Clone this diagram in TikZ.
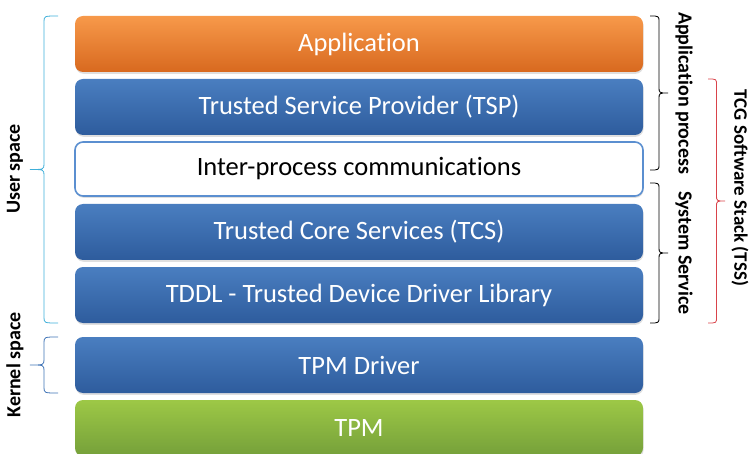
\documentclass[tikz,border=0pt]{standalone}
\usepackage{fontspec}
\setmainfont{Carlito}[Ligatures=NoCommon]
\usetikzlibrary{shadows,calc}

\definecolor{orangetop}{HTML}{F7994A}
\definecolor{orangebot}{HTML}{D8691F}
\definecolor{bluetop}{HTML}{4A7EC0}
\definecolor{bluebot}{HTML}{2E5C9D}
\definecolor{greentop}{HTML}{9DC846}
\definecolor{greenbot}{HTML}{75A03A}
\definecolor{ipcline}{HTML}{5B8FD0}
\definecolor{userbrace}{HTML}{3FAFD9}
\definecolor{kernbrace}{HTML}{3F73B6}
\definecolor{tssbrace}{HTML}{D9434A}

% brace from #1 (top) to #2 (bottom), #3 = depth of each half (sign = side), #4 = style
\newcommand{\sidebrace}[4]{%
  \coordinate (bm) at ($(#1)!0.5!(#2)$);
  \draw[#4] (#1) .. controls ($(#1)+(#3,0)$) .. ($(#1)+(#3,6)$)
    -- ($(bm)+(#3,-6)$) .. controls ($(bm)+(#3,0)$) .. ($(bm)+(2*#3,0)$)
    .. controls ($(bm)+(#3,0)$) .. ($(bm)+(#3,6)$)
    -- ($(#2)+(#3,-6)$) .. controls ($(#2)+(#3,0)$) .. (#2);
}

\begin{document}
\begin{tikzpicture}[x=1pt,y=-1pt,
  layer/.style={rounded corners=8pt, minimum width=568pt, minimum height=56pt,
    inner sep=0pt, text=white, font=\fontsize{26.5}{30}\selectfont,
    drop shadow={opacity=0.25, shadow xshift=0.6pt, shadow yshift=-1.8pt}},
  bluelayer/.style={layer, top color=bluetop, bottom color=bluebot},
  sidelabel/.style={font=\bfseries\fontsize{20}{24}\selectfont, text=black},
  braceline/.style={line width=0.8pt}]
\useasboundingbox (0,0) rectangle (749,454);
%% layers of the stack
\node[layer, top color=orangetop, bottom color=orangebot] (app) at (359,44) {Application};
\node[bluelayer] (tsp) at (359,107) {Trusted Service Provider (TSP)};
\node[layer, fill=white, draw=ipcline, line width=1.6pt, text=black, minimum height=54pt] (ipc) at (359,169) {Inter-process communications};
\node[bluelayer] (tcs) at (359,232) {Trusted Core Services (TCS)};
\node[bluelayer] (tddl) at (359,295) {TDDL - Trusted Device Driver Library};
\node[bluelayer] (drv) at (359,365) {TPM Driver};
\node[layer, top color=greentop, bottom color=greenbot] (tpm) at (359,428) {TPM};
%% left side: user / kernel
\coordinate (usrt) at (58,16);
\coordinate (usrb) at (58,323);
\coordinate (kert) at (58,337);
\coordinate (kerb) at (58,393);
\sidebrace{usrt}{usrb}{-14}{braceline, userbrace}
\sidebrace{kert}{kerb}{-14}{braceline, kernbrace}
\node[sidelabel, rotate=90] (user) at (15,169) {User space};
\node[sidelabel, rotate=90] (kernel) at (15,365) {Kernel space};
%% right side: process / service / TSS
\coordinate (appt) at (650,16);
\coordinate (appb) at (650,170);
\coordinate (syst) at (650,183);
\coordinate (sysb) at (650,323);
\coordinate (tsst) at (708,79);
\coordinate (tssb) at (708,323);
\sidebrace{appt}{appb}{9}{braceline, black}
\sidebrace{syst}{sysb}{9}{braceline, black}
\sidebrace{tsst}{tssb}{8.5}{braceline, tssbrace}
\node[sidelabel, rotate=-90] (appproc) at (684,93) {Application process};
\node[sidelabel, rotate=-90] (syssvc) at (684,253) {System Service};
\node[sidelabel, rotate=-90, font=\bfseries\fontsize{19}{22}\selectfont] (tss) at (740,188) {TCG Software Stack (TSS)};
\end{tikzpicture}
\end{document}
